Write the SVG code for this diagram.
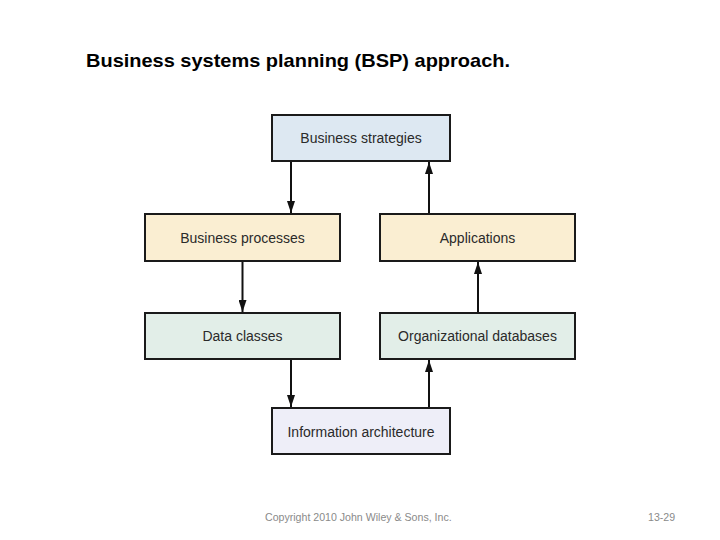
<svg xmlns="http://www.w3.org/2000/svg" width="720" height="540" viewBox="0 0 720 540">
<style>
.box{stroke:#1a1a1a;stroke-width:2}
.lbl{font-family:"Liberation Sans",Arial,sans-serif;font-size:14px;fill:#2a2a2a;text-anchor:middle;dominant-baseline:central}
.con{stroke:#111;stroke-width:2;fill:none;marker-end:url(#ah)}
.foot{font-family:"Liberation Sans",Arial,sans-serif;font-size:10.6px;fill:#8a8a8a}
</style>
<defs>
<marker id="ah" markerWidth="12" markerHeight="8" refX="12" refY="4" orient="auto" markerUnits="userSpaceOnUse" viewBox="0 0 12 8">
<path d="M0,0 L12,4 L0,8 Z" fill="#111"/>
</marker>
</defs>
<rect width="720" height="540" fill="#fff"/>
<text x="86" y="67" font-family="'Liberation Sans',Arial,sans-serif" font-weight="bold" font-size="19" fill="#000" textLength="424" lengthAdjust="spacingAndGlyphs">Business systems planning (BSP) approach.</text>
<g id="connectors">
<line class="con" x1="291" y1="162" x2="291" y2="213"/>
<line class="con" x1="429" y1="214" x2="429" y2="162"/>
<line class="con" x1="242.5" y1="262" x2="242.5" y2="312"/>
<line class="con" x1="478" y1="313" x2="478" y2="262"/>
<line class="con" x1="291" y1="360" x2="291" y2="407"/>
<line class="con" x1="429" y1="408" x2="429" y2="360"/>
</g>
<g id="business-strategies">
<rect class="box" x="272" y="115" width="178" height="46" fill="#dde8f2"/>
<text class="lbl" x="361" y="138">Business strategies</text>
</g>
<g id="business-processes">
<rect class="box" x="145" y="214" width="195" height="47" fill="#faeed2"/>
<text class="lbl" x="242.5" y="238">Business processes</text>
</g>
<g id="applications">
<rect class="box" x="380" y="214" width="195" height="47" fill="#faeed2"/>
<text class="lbl" x="477.5" y="238">Applications</text>
</g>
<g id="data-classes">
<rect class="box" x="145" y="313" width="195" height="46" fill="#e2eee8"/>
<text class="lbl" x="242.5" y="336">Data classes</text>
</g>
<g id="organizational-databases">
<rect class="box" x="380" y="313" width="195" height="46" fill="#e2eee8"/>
<text class="lbl" x="477.5" y="336">Organizational databases</text>
</g>
<g id="information-architecture">
<rect class="box" x="272" y="408" width="178" height="46" fill="#eeeef8"/>
<text class="lbl" x="361" y="432">Information architecture</text>
</g>
<text class="foot" x="265" y="521">Copyright 2010 John Wiley &amp; Sons, Inc.</text>
<text class="foot" x="648" y="521">13-29</text>
</svg>
